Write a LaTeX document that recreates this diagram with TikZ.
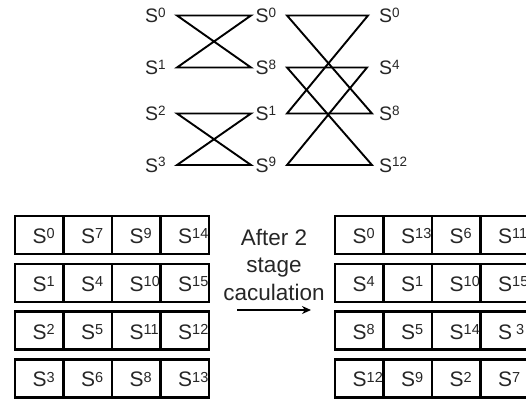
\documentclass[tikz,border=0pt]{standalone}
\usepackage{fontspec}
\setmainfont{Liberation Sans}
\usetikzlibrary{arrows.meta}
% S with a raised index: grid cells and butterfly labels
\newcommand\Sg[1]{S\raisebox{4.8pt}{\fontsize{14.5}{14.5}\selectfont #1}}
\newcommand\St[1]{S\raisebox{5.5pt}{\fontsize{13.5}{13.5}\selectfont #1}}
\begin{document}
\begin{tikzpicture}[x=1pt,y=-1pt,
  wire/.style={line width=1.9pt, line join=miter},
  sym/.style={font=\fontsize{19.5}{19.5}\selectfont, text=black!85, inner sep=0pt, anchor=base west},
  gsym/.style={font=\fontsize{21}{21}\selectfont, text=black!85, inner sep=0pt, anchor=base west},
  cellbox/.style={draw, line width=2.3pt, minimum width=48.5pt, minimum height=38pt, inner sep=0pt, outer sep=0pt},
  caption/.style={font=\fontsize{22.5}{22.5}\selectfont, text=black!85, inner sep=0pt, anchor=base}]
\useasboundingbox (0,0) rectangle (526,399);

% ---- butterfly end points ----
\foreach \i/\y in {0/15.5,1/67.5,2/113.5,3/165} {
  \coordinate (a\i) at (177,\y);
  \coordinate (b\i) at (251,\y);
}
\coordinate (c0) at (287,15.5);  \coordinate (d0) at (368,15.5);
\coordinate (c1) at (287,67.5);  \coordinate (d1) at (367,67.5);
\coordinate (c2) at (287,113.5); \coordinate (d2) at (372,113.5);
\coordinate (c3) at (287,165);   \coordinate (d3) at (372,165);

\foreach \i/\v in {0/0,1/1,2/2,3/3}
  \node[sym] (p\i) at ([yshift=-7pt]a\i -| 145,0) {\St{\v}};
\foreach \i/\v in {0/0,1/8,2/1,3/9}
  \node[sym] (q\i) at ([yshift=-7pt]b\i -| 255.5,0) {\St{\v}};
\foreach \i/\v in {0/0,1/4,2/8,3/12}
  \node[sym] (r\i) at ([yshift=-7pt]d\i -| 379,0) {\St{\v}};

% ---- butterfly stage 1 ----
\draw[wire] (a0) -- (b0) -- (a1) -- (b1) -- cycle;
\draw[wire] (a2) -- (b2) -- (a3) -- (b3) -- cycle;
% ---- butterfly stage 2 ----
\draw[wire] (c0) -- (d0) -- (c2) -- (d2) -- cycle;
\draw[wire] (c1) -- (d1) -- (c3) -- (d3) -- cycle;

% ---- data layout before ----
\foreach \r/\vals in {0/{0,7,9,14},1/{1,4,10,15},2/{2,5,11,12},3/{3,6,8,13}} {
  \foreach \v [count=\c from 0] in \vals {
    \node[cellbox] (L\r\c) at ({15+48.5*\c+24.25},{216+47.8*\r+19}) {};
    \node[gsym] (Ls\r\c) at ([xshift=17.5pt,yshift=-8.5pt]L\r\c.west) {\Sg{\v}};
  }
}
% ---- data layout after ----
\foreach \r/\vals in {0/{0,13,6,11},1/{4,1,10,15},2/{8,5,14,{\kern4pt 3}},3/{12,9,2,7}} {
  \foreach \v [count=\c from 0] in \vals {
    \node[cellbox] (R\r\c) at ({335+48.5*\c+24.25},{216+47.8*\r+19}) {};
    \node[gsym] (Rs\r\c) at ([xshift=17.5pt,yshift=-8.5pt]R\r\c.west) {\Sg{\v}};
  }
}

% ---- caption and arrow ----
\node[caption] (t1) at (274,245) {After 2};
\node[caption] (t2) at (274,272.5) {stage};
\node[caption] (t3) at (274,300) {caculation};
\coordinate (arrS) at (237,310);
\coordinate (arrE) at (311,310);
\draw[line width=1.6pt, -{Stealth[length=9pt,width=8pt]}] (arrS) -- (arrE);
\end{tikzpicture}
\end{document}
